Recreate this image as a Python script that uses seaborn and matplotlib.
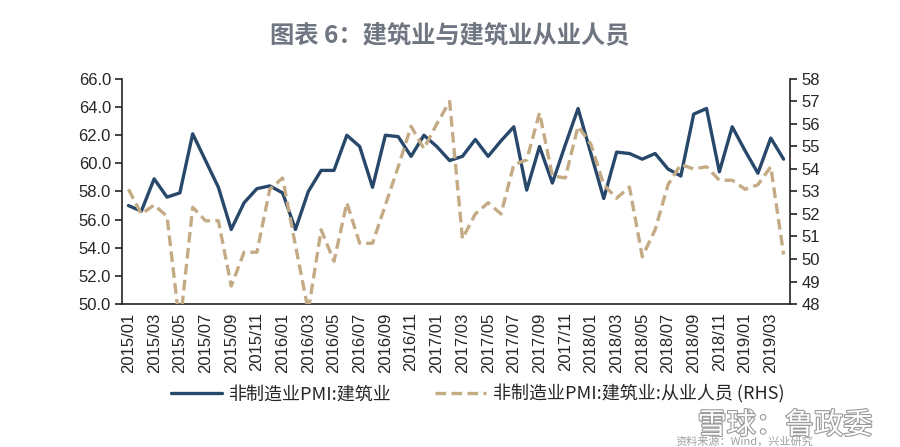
import numpy as np
import pandas as pd
import seaborn as sns
import matplotlib.pyplot as plt
import matplotlib.patheffects as pe
from matplotlib.lines import Line2D

# monthly data, 2015/01 - 2019/04
months = pd.period_range("2015-01", "2019-04", freq="M").strftime("%Y/%m").tolist()

pmi_construction = [
    57.0, 56.6, 58.9, 57.6, 57.9, 62.1, 60.2, 58.3, 55.3, 57.2, 58.2, 58.4,
    57.9, 55.3, 58.0, 59.5, 59.5, 62.0, 61.2, 58.3, 62.0, 61.9, 60.5, 62.0,
    61.2, 60.2, 60.5, 61.7, 60.5, 61.6, 62.6, 58.1, 61.2, 58.6, 61.3, 63.9,
    60.7, 57.5, 60.8, 60.7, 60.3, 60.7, 59.6, 59.1, 63.5, 63.9, 59.4, 62.6,
    60.9, 59.3, 61.8, 60.3,
]
pmi_employment = [
    53.1, 52.0, 52.4, 51.9, 47.0, 52.3, 51.7, 51.7, 48.8, 50.3, 50.3, 53.1,
    53.6, 50.6, 47.7, 51.3, 49.9, 52.5, 50.7, 50.7, 52.4, 54.1, 55.9, 54.9,
    56.0, 57.0, 50.9, 52.0, 52.5, 52.0, 54.2, 54.4, 56.5, 53.7, 53.6, 55.9,
    55.1, 53.3, 52.7, 53.2, 50.1, 51.3, 53.3, 54.2, 54.0, 54.1, 53.5, 53.5,
    53.1, 53.3, 54.1, 50.2,
]

label_1 = "非制造业PMI:建筑业"
label_2 = "非制造业PMI:建筑业:从业人员 (RHS)"

df = pd.DataFrame({"month": months, "pmi": pmi_construction, "emp": pmi_employment})
df["idx"] = np.arange(len(df))

sns.set_style("white")
plt.rcParams["font.family"] = ["Liberation Sans", "Noto Sans CJK SC", "DejaVu Sans"]
cjk = ["Noto Sans CJK SC", "DejaVu Sans"]

blue = "#27486b"
tan = "#c4ab85"

fig = plt.figure(figsize=(9, 4.47), dpi=100)
ax = fig.add_axes([0.1356, 0.3199, 0.7422, 0.5034])
ax2 = ax.twinx()

sns.lineplot(data=df, x="idx", y="pmi", ax=ax, color=blue, linewidth=2.4)
sns.lineplot(data=df, x="idx", y="emp", ax=ax2, color=tan, linewidth=2.4)
ax2.lines[0].set_dashes([3.2, 1.6])

n = len(months)
ax.set_xlim(-0.5, n - 0.5)
ax.set_ylim(50, 66)
ax2.set_ylim(48, 58)
ax.set_yticks(np.arange(50, 66.1, 2))
ax.set_yticklabels([f"{v:.1f}" for v in np.arange(50, 66.1, 2)], fontsize=12)
ax2.set_yticks(np.arange(48, 58.1, 1))
ax2.set_yticklabels([str(v) for v in range(48, 59)], fontsize=12)

# labels every 2 months, ticks on category boundaries
ax.set_xticks(df["idx"][::2])
ax.set_xticklabels(df["month"][::2], rotation=90, fontsize=12)
ax.set_xticks(np.arange(-0.5, n, 2), minor=True)
ax.tick_params(axis="x", which="major", length=0, pad=6)
ax.tick_params(axis="x", which="minor", length=7, width=1.2, direction="inout", color="#222222")
ax.tick_params(axis="y", length=5, width=1.2, direction="out", color="#222222", pad=3)
ax2.tick_params(axis="y", length=5, width=1.2, direction="out", color="#222222", pad=3)

ax.set_xlabel("")
ax.set_ylabel("")
ax2.set_ylabel("")
for a in (ax, ax2):
    a.spines["top"].set_visible(False)
    for s in ("left", "right", "bottom"):
        a.spines[s].set_color("#222222")
        a.spines[s].set_linewidth(1.2)
ax.spines["right"].set_visible(False)
ax2.spines["left"].set_visible(False)
ax2.spines["bottom"].set_visible(False)

fig.text(0.5, 0.922, "图表 6：建筑业与建筑业从业人员", ha="center", va="center",
         fontsize=17.5, fontweight="bold", color="#6f7682", family=cjk)

handles = [Line2D([], [], color=blue, linewidth=2.4),
           Line2D([], [], color=tan, linewidth=2.4, dashes=[3.2, 1.6])]
fig.legend(handles, [label_1, label_2], loc="center", bbox_to_anchor=(0.531, 0.118),
           ncol=2, frameon=False, handlelength=2.8, handletextpad=0.4,
           columnspacing=2.4, prop={"family": cjk, "size": 13})

# source note and watermark
fig.text(0.75, 0.004, "资料来源：Wind，兴业研究", fontsize=8, color="#a0a0a0", family=cjk)
fig.text(0.775, 0.03, "雪球：鲁政委", fontsize=21, color="white", family=cjk,
         path_effects=[pe.withStroke(linewidth=1.6, foreground="#9a9a9a")])

fig.savefig("out.png", dpi=100)
